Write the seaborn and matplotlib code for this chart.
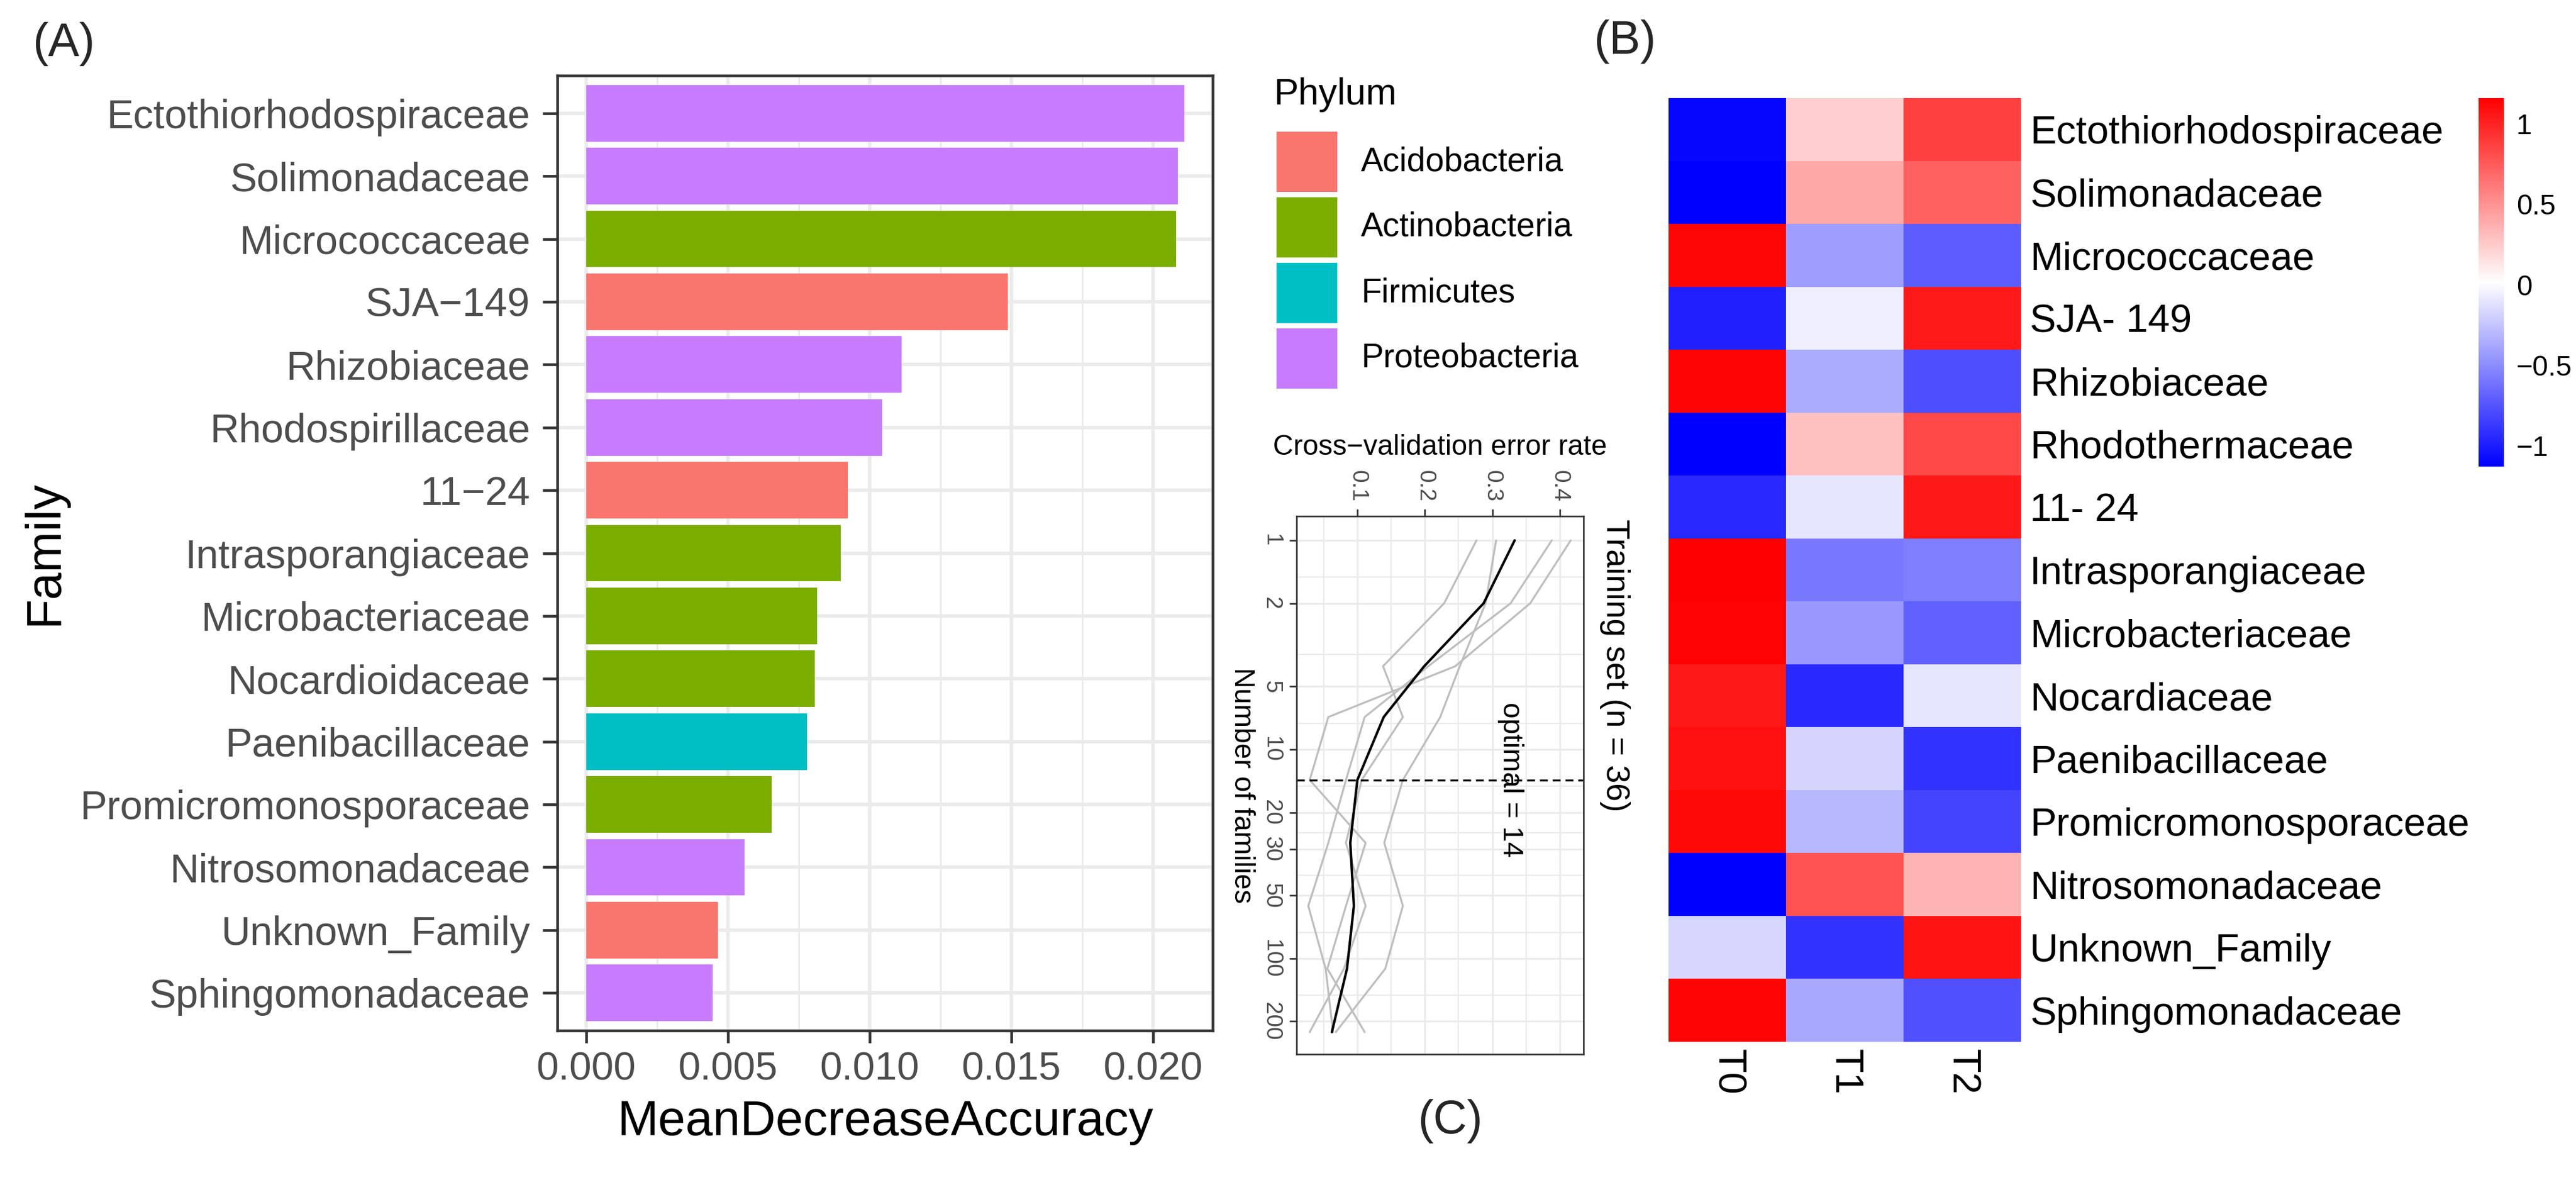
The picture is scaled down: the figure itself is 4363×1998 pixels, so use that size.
import numpy as np
import pandas as pd
import matplotlib
matplotlib.use("Agg")
import matplotlib.pyplot as plt
import seaborn as sns
from matplotlib.colors import LinearSegmentedColormap
from matplotlib.patches import Rectangle
from matplotlib.ticker import FixedLocator, NullFormatter

# ---------------- data ----------------
# Panel A: random-forest importance
families_A = ["Ectothiorhodospiraceae", "Solimonadaceae", "Micrococcaceae", "SJA\u2212149",
              "Rhizobiaceae", "Rhodospirillaceae", "11\u221224", "Intrasporangiaceae",
              "Microbacteriaceae", "Nocardioidaceae", "Paenibacillaceae",
              "Promicromonosporaceae", "Nitrosomonadaceae", "Unknown_Family",
              "Sphingomonadaceae"]
phylum_A = ["Proteobacteria", "Proteobacteria", "Actinobacteria", "Acidobacteria",
            "Proteobacteria", "Proteobacteria", "Acidobacteria", "Actinobacteria",
            "Actinobacteria", "Actinobacteria", "Firmicutes", "Actinobacteria",
            "Proteobacteria", "Acidobacteria", "Proteobacteria"]
mean_decrease_accuracy = [0.02110, 0.02088, 0.02081, 0.01488, 0.01112, 0.01044, 0.00923,
                          0.00898, 0.00815, 0.00807, 0.00779, 0.00654, 0.00558, 0.00464,
                          0.00446]
phyla = ["Acidobacteria", "Actinobacteria", "Firmicutes", "Proteobacteria"]
phylum_colors = ["#F8766D", "#7CAE00", "#00BFC4", "#C77CFF"]

# Panel C: cross-validation error vs number of families
n_families = [1, 2, 4, 7, 14, 28, 56, 112, 225]
err_mean = [0.333, 0.287, 0.199, 0.139, 0.100, 0.0895, 0.0948, 0.0846, 0.0622]
err_fold1 = [0.3055, 0.290, 0.2517, 0.2227, 0.1674, 0.1398, 0.1674, 0.1413, 0.068]
err_fold2 = [0.2765, 0.2285, 0.138, 0.1674, 0.1064, 0.083, 0.1122, 0.080, 0.0294]
err_fold3 = [0.388, 0.327, 0.205, 0.1108, 0.0831, 0.057, 0.0273, 0.053, 0.064]
err_fold4 = [0.416, 0.356, 0.245, 0.057, 0.0294, 0.1122, 0.0831, 0.0555, 0.1108]
n_ticks = [1, 2, 5, 10, 20, 30, 50, 100, 200]
optimal_n = 14

# Panel B: row-scaled abundance heatmap
heat_families = ["Ectothiorhodospiraceae", "Solimonadaceae", "Micrococcaceae", "SJA- 149",
                 "Rhizobiaceae", "Rhodothermaceae", "11- 24", "Intrasporangiaceae",
                 "Microbacteriaceae", "Nocardiaceae", "Paenibacillaceae",
                 "Promicromonosporaceae", "Nitrosomonadaceae", "Unknown_Family",
                 "Sphingomonadaceae"]
treatments = ["T0", "T1", "T2"]
heat_T0 = [-1.10, -1.13, 1.13, -0.98, 1.14, -1.13, -0.95, 1.155, 1.15, 1.05, 1.08, 1.12,
           -1.14, -0.17, 1.14]
heat_T1 = [0.23, 0.40, -0.42, -0.06, -0.36, 0.30, -0.10, -0.59, -0.45, -0.95, -0.18, -0.30,
           0.79, -0.90, -0.37]
heat_T2 = [0.87, 0.73, -0.71, 1.04, -0.78, 0.83, 1.05, -0.565, -0.70, -0.10, -0.90, -0.82,
           0.35, 1.07, -0.77]
cbar_ticks = [-1, -0.5, 0, 0.5, 1]

# ---------------- style ----------------
sns.set_theme(style="white")
plt.rcParams["font.family"] = ["Liberation Sans", "DejaVu Sans"]
plt.rcParams["axes.unicode_minus"] = True

W, H = 4363, 1998
fig = plt.figure(figsize=(W / 300, H / 300), dpi=300)


def box(l, t, r, b):
    return [l / W, 1 - b / H, (r - l) / W, (b - t) / H]


GRID = "#EBEBEB"
TICKC = "#4D4D4D"
SPINE = "#333333"

# ---------------- Panel A ----------------
axA = fig.add_axes(box(944, 128, 2054, 1745))
dfA = pd.DataFrame({"Family": families_A, "Phylum": phylum_A,
                    "MeanDecreaseAccuracy": mean_decrease_accuracy})
sns.barplot(data=dfA, x="MeanDecreaseAccuracy", y="Family", hue="Phylum",
            hue_order=phyla, order=families_A,
            palette=dict(zip(phyla, phylum_colors)), dodge=False, width=0.9,
            saturation=1, linewidth=0, legend=False, ax=axA)
axA.set_ylim(14.6, -0.6)
axA.set_xlim(-0.00102, 0.0221)
axA.set_xticks([0.0, 0.005, 0.010, 0.015, 0.020])
axA.set_xticklabels(["0.000", "0.005", "0.010", "0.015", "0.020"])
axA.xaxis.set_minor_locator(FixedLocator([0.0025, 0.0075, 0.0125, 0.0175]))
axA.set_axisbelow(True)
axA.grid(which="major", color=GRID, lw=1.4)
axA.grid(which="minor", axis="x", color=GRID, lw=0.7)
for s in axA.spines.values():
    s.set_visible(True)
    s.set_color(SPINE)
    s.set_linewidth(1.1)
axA.tick_params(axis="y", which="major", length=6, width=1.1, color=SPINE,
                labelsize=16.4, labelcolor=TICKC, pad=5, left=True)
axA.tick_params(axis="x", which="major", length=5, width=1.1, color=SPINE,
                labelsize=16.2, labelcolor=TICKC, pad=3.6, bottom=True)
axA.tick_params(axis="x", which="minor", length=0)
axA.set_xlabel("MeanDecreaseAccuracy", fontsize=20, color="black")
axA.set_ylabel("Family", fontsize=20, color="black")
axA.xaxis.set_label_coords(0.5, -0.096)
axA.xaxis.label.set_va("center")
axA.yaxis.set_label_coords(-0.783, 0.5)
axA.yaxis.label.set_va("center")

# Legend (Phylum)
fig.text(2158 / W, 1 - 177 / H, "Phylum", fontsize=15, ha="left", va="baseline",
         color="black")
for i, (ph, col) in enumerate(zip(phyla, phylum_colors)):
    top = 223 + 111 * i
    fig.add_artist(Rectangle((2162 / W, 1 - (top + 102) / H), 103 / W, 102 / H,
                             transform=fig.transFigure, facecolor=col,
                             edgecolor="none"))
    fig.text(2305 / W, 1 - (top + 51) / H, ph, fontsize=13.6, ha="left", va="center",
             color="black")

# ---------------- Panel C ----------------
axC = fig.add_axes(box(2196, 874, 2682, 1785))
series = {"fold 1": err_fold1, "fold 2": err_fold2, "fold 3": err_fold3,
          "fold 4": err_fold4, "mean": err_mean}
dfC = pd.concat([pd.DataFrame({"n": n_families, "err": v, "series": k})
                 for k, v in series.items()], ignore_index=True)
pal = {k: ("black" if k == "mean" else "#BEBEBE") for k in series}
sizes = {k: (1.0 if k == "mean" else 0.8) for k in series}
sns.lineplot(data=dfC, x="err", y="n", hue="series", size="series", palette=pal,
             sizes=sizes, estimator=None, sort=True, orient="y", legend=False, ax=axC)
axC.set_yscale("log")
axC.set_ylim(287, 0.766)
axC.set_xlim(0.0099, 0.435)
axC.axhline(optimal_n, color="black", lw=0.8, ls=(0, (4, 2.5)))
axC.text(0.327, optimal_n, f"optimal = {optimal_n}", rotation=-90, ha="center",
         va="center", fontsize=11.5, color="black")

axC.xaxis.tick_top()
axC.set_xticks([0.1, 0.2, 0.3, 0.4])
axC.set_xticklabels(["0.1", "0.2", "0.3", "0.4"])
axC.xaxis.set_minor_locator(FixedLocator([0.05, 0.15, 0.25, 0.35]))
axC.xaxis.set_minor_formatter(NullFormatter())
axC.yaxis.set_major_locator(FixedLocator(n_ticks))
axC.set_yticklabels([str(v) for v in n_ticks])
axC.yaxis.set_minor_locator(FixedLocator([1.5, 3.5, 7.5, 15, 25, 40, 75, 150]))
axC.yaxis.set_minor_formatter(NullFormatter())
axC.set_axisbelow(True)
axC.grid(which="major", color=GRID, lw=0.75)
axC.grid(which="minor", color=GRID, lw=0.55)
for s in axC.spines.values():
    s.set_visible(True)
    s.set_color(SPINE)
    s.set_linewidth(0.65)
axC.tick_params(axis="x", which="major", top=True, bottom=False, labeltop=True,
                labelbottom=False, length=2.9, width=0.65, color=SPINE,
                labelsize=9.3, labelcolor=TICKC, labelrotation=-90, pad=3.0)
axC.tick_params(axis="y", which="major", left=True, length=2.9, width=0.65,
                color=SPINE, labelsize=9.3, labelcolor=TICKC, labelrotation=-90,
                pad=3.0)
axC.tick_params(which="minor", length=0)
for lab in axC.get_yticklabels():
    lab.set_va("center")
axC.set_xlabel("Cross\u2212validation error rate", fontsize=11.5, color="black")
axC.xaxis.set_label_position("top")
axC.xaxis.set_label_coords(0.5, 1.128)
axC.xaxis.label.set_va("center")
axC.set_ylabel("Number of families", fontsize=11.5, color="black", rotation=-90)
axC.yaxis.set_label_coords(-0.19, 0.5)
axC.yaxis.label.set_va("center")
axC.yaxis.label.set_ha("center")
axC.text(1.109, 0.9945, "Training set (n = 36)", transform=axC.transAxes,
         rotation=-90, ha="center", va="top", fontsize=13.3, color="black")

# ---------------- Panel B ----------------
axH = fig.add_axes(box(2826, 166, 3423, 1764))
cax = fig.add_axes(box(4198, 166, 4241, 790))
dfH = pd.DataFrame({"T0": heat_T0, "T1": heat_T1, "T2": heat_T2}, index=heat_families)
cmap = LinearSegmentedColormap.from_list("bwr_ph", ["#0000FF", "#FFFFFF", "#FF0000"], N=256)
sns.heatmap(dfH, cmap=cmap, vmin=-1.13, vmax=1.16, ax=axH, cbar_ax=cax,
            xticklabels=treatments, yticklabels=heat_families, linewidths=0)
axH.yaxis.tick_right()
axH.tick_params(axis="y", length=0, pad=3.6, labelsize=16, labelcolor="black",
                labelrotation=0, right=True, left=False)
for lab in axH.get_yticklabels():
    lab.set_ha("left")
axH.tick_params(axis="x", length=0, pad=3.0, labelsize=16, labelcolor="black",
                labelrotation=-90)
axH.set_xlabel("")
axH.set_ylabel("")
cax.set_yticks(cbar_ticks)
cax.set_yticklabels(["\u22121", "\u22120.5", "0", "0.5", "1"])
cax.tick_params(length=0, pad=5, labelsize=11.5, labelcolor="black")
for s in cax.spines.values():
    s.set_visible(False)

# ---------------- panel tags ----------------
fig.text(108 / W, 1 - 75 / H, "(A)", fontsize=19, ha="center", va="center")
fig.text(2752 / W, 1 - 70 / H, "(B)", fontsize=19, ha="center", va="center")
fig.text(2456 / W, 1 - 1899 / H, "(C)", fontsize=19, ha="center", va="center")

fig.savefig("out.png", dpi=300, facecolor="white")
